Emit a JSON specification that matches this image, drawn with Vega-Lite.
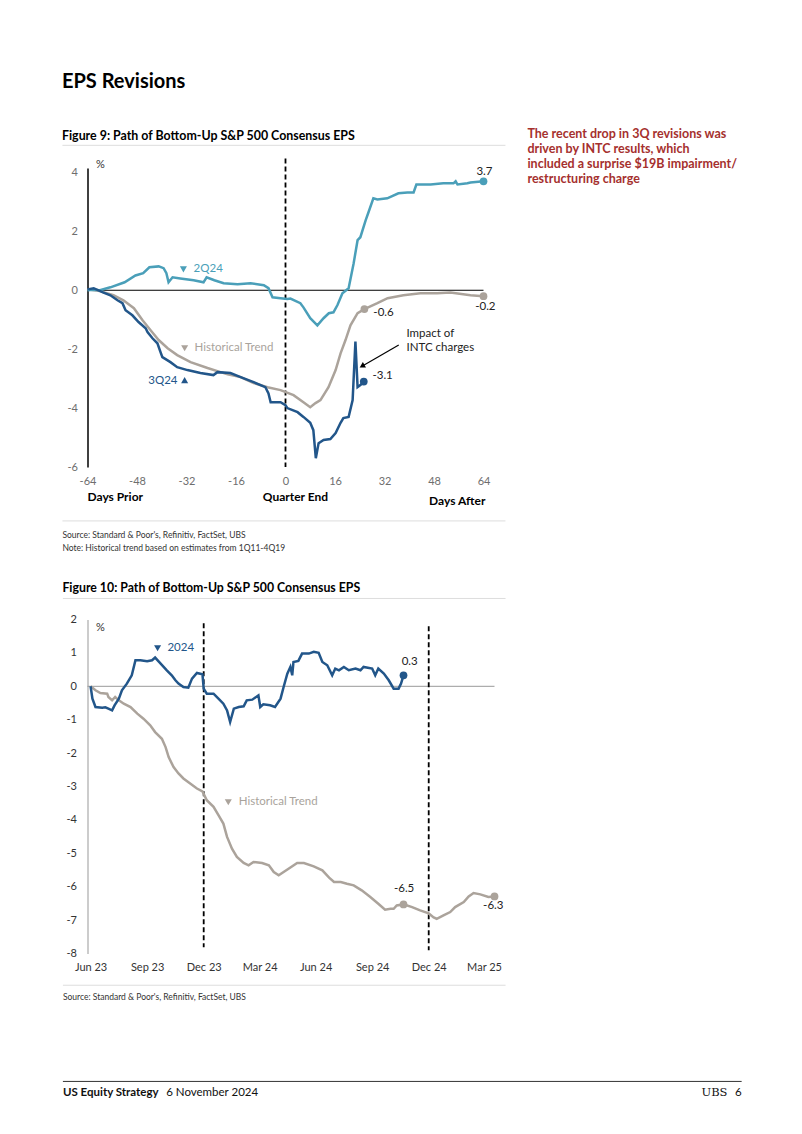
{
  "$schema": "https://vega.github.io/schema/vega-lite/v6.json",
  "background": "white",
  "padding": {"left": 61.5, "top": 71, "right": 5, "bottom": 5},
  "spacing": 28.5,
  "columns": 1,
  "align": "none",
  "resolve": {"scale": {"color": "independent"}},
  "config": {
    "font": "Lato",
    "view": {"stroke": null},
    "axis": {"grid": false, "ticks": false, "labelFont": "Lato", "labelOverlap": false},
    "title": {"font": "Lato", "subtitleFont": "Lato"}
  },
  "datasets": {
    "one": [{}],
    "c1": [
      {"s": "2Q24", "d": -64, "v": 0}, {"s": "2Q24", "d": -62, "v": 0.02}, {"s": "2Q24", "d": -60, "v": 0.0}, {"s": "2Q24", "d": -56.6, "v": 0.1}, {"s": "2Q24", "d": -52, "v": 0.27}, {"s": "2Q24", "d": -48.5, "v": 0.5}, {"s": "2Q24", "d": -46, "v": 0.58}, {"s": "2Q24", "d": -44, "v": 0.78}, {"s": "2Q24", "d": -41, "v": 0.81}, {"s": "2Q24", "d": -39.4, "v": 0.75}, {"s": "2Q24", "d": -38.5, "v": 0.58}, {"s": "2Q24", "d": -37.8, "v": 0.27}, {"s": "2Q24", "d": -36.5, "v": 0.44}, {"s": "2Q24", "d": -34, "v": 0.4}, {"s": "2Q24", "d": -29.7, "v": 0.34}, {"s": "2Q24", "d": -26.5, "v": 0.27}, {"s": "2Q24", "d": -25.5, "v": 0.44}, {"s": "2Q24", "d": -23, "v": 0.34}, {"s": "2Q24", "d": -20, "v": 0.24}, {"s": "2Q24", "d": -15.5, "v": 0.2}, {"s": "2Q24", "d": -11.3, "v": 0.24}, {"s": "2Q24", "d": -7, "v": 0.17}, {"s": "2Q24", "d": -5.5, "v": 0.07}, {"s": "2Q24", "d": -4.2, "v": -0.24}, {"s": "2Q24", "d": -1.6, "v": -0.27}, {"s": "2Q24", "d": 0.6, "v": -0.3}, {"s": "2Q24", "d": 1.6, "v": -0.28}, {"s": "2Q24", "d": 4.8, "v": -0.44}, {"s": "2Q24", "d": 5.8, "v": -0.58}, {"s": "2Q24", "d": 8, "v": -0.95}, {"s": "2Q24", "d": 10.3, "v": -1.19}, {"s": "2Q24", "d": 12.3, "v": -0.95}, {"s": "2Q24", "d": 14, "v": -0.78}, {"s": "2Q24", "d": 15.5, "v": -0.75}, {"s": "2Q24", "d": 16.8, "v": -0.5}, {"s": "2Q24", "d": 18.4, "v": -0.1}, {"s": "2Q24", "d": 20.4, "v": 0.07}, {"s": "2Q24", "d": 22, "v": 0.9}, {"s": "2Q24", "d": 23.3, "v": 1.7}, {"s": "2Q24", "d": 24.2, "v": 1.8}, {"s": "2Q24", "d": 25.9, "v": 2.37}, {"s": "2Q24", "d": 26.8, "v": 2.64}, {"s": "2Q24", "d": 28.4, "v": 3.12}, {"s": "2Q24", "d": 29.7, "v": 3.08}, {"s": "2Q24", "d": 32.9, "v": 3.12}, {"s": "2Q24", "d": 36.5, "v": 3.29}, {"s": "2Q24", "d": 39.4, "v": 3.32}, {"s": "2Q24", "d": 41.4, "v": 3.32}, {"s": "2Q24", "d": 42.3, "v": 3.59}, {"s": "2Q24", "d": 46.9, "v": 3.59}, {"s": "2Q24", "d": 51, "v": 3.63}, {"s": "2Q24", "d": 54.3, "v": 3.63}, {"s": "2Q24", "d": 55, "v": 3.7}, {"s": "2Q24", "d": 55.6, "v": 3.59}, {"s": "2Q24", "d": 58.8, "v": 3.63}, {"s": "2Q24", "d": 59.8, "v": 3.66}, {"s": "2Q24", "d": 64, "v": 3.7},
      {"s": "3Q24", "d": -64, "v": 0.03}, {"s": "3Q24", "d": -62, "v": 0.07}, {"s": "3Q24", "d": -59, "v": -0.07}, {"s": "3Q24", "d": -56.6, "v": -0.17}, {"s": "3Q24", "d": -54.3, "v": -0.34}, {"s": "3Q24", "d": -52.7, "v": -0.44}, {"s": "3Q24", "d": -51.7, "v": -0.68}, {"s": "3Q24", "d": -49.5, "v": -0.85}, {"s": "3Q24", "d": -47.5, "v": -1.08}, {"s": "3Q24", "d": -45.2, "v": -1.29}, {"s": "3Q24", "d": -44.6, "v": -1.42}, {"s": "3Q24", "d": -43, "v": -1.63}, {"s": "3Q24", "d": -41.4, "v": -1.8}, {"s": "3Q24", "d": -40.4, "v": -2.1}, {"s": "3Q24", "d": -39.8, "v": -2.27}, {"s": "3Q24", "d": -37.2, "v": -2.44}, {"s": "3Q24", "d": -35, "v": -2.61}, {"s": "3Q24", "d": -31.7, "v": -2.71}, {"s": "3Q24", "d": -27.5, "v": -2.81}, {"s": "3Q24", "d": -23.3, "v": -2.88}, {"s": "3Q24", "d": -22, "v": -2.78}, {"s": "3Q24", "d": -17.8, "v": -2.81}, {"s": "3Q24", "d": -14.5, "v": -2.95}, {"s": "3Q24", "d": -10.3, "v": -3.12}, {"s": "3Q24", "d": -6.5, "v": -3.29}, {"s": "3Q24", "d": -5.5, "v": -3.5}, {"s": "3Q24", "d": -4.8, "v": -3.8}, {"s": "3Q24", "d": -1.6, "v": -3.8}, {"s": "3Q24", "d": 0, "v": -3.9}, {"s": "3Q24", "d": 0.6, "v": -4.0}, {"s": "3Q24", "d": 3.9, "v": -4.14}, {"s": "3Q24", "d": 5.8, "v": -4.3}, {"s": "3Q24", "d": 8, "v": -4.5}, {"s": "3Q24", "d": 9, "v": -4.75}, {"s": "3Q24", "d": 9.8, "v": -5.7}, {"s": "3Q24", "d": 10.7, "v": -5.19}, {"s": "3Q24", "d": 12.3, "v": -5.08}, {"s": "3Q24", "d": 14.5, "v": -5.05}, {"s": "3Q24", "d": 16.2, "v": -4.85}, {"s": "3Q24", "d": 17.8, "v": -4.5}, {"s": "3Q24", "d": 18.7, "v": -4.34}, {"s": "3Q24", "d": 20.4, "v": -4.3}, {"s": "3Q24", "d": 21.7, "v": -3.73}, {"s": "3Q24", "d": 22.6, "v": -1.74}, {"s": "3Q24", "d": 23.3, "v": -3.29}, {"s": "3Q24", "d": 24.2, "v": -3.22}, {"s": "3Q24", "d": 25.3, "v": -3.1},
      {"s": "Historical Trend", "d": -64, "v": 0.03}, {"s": "Historical Trend", "d": -60, "v": -0.03}, {"s": "Historical Trend", "d": -55.6, "v": -0.17}, {"s": "Historical Trend", "d": -52.4, "v": -0.34}, {"s": "Historical Trend", "d": -49, "v": -0.61}, {"s": "Historical Trend", "d": -46.2, "v": -1.02}, {"s": "Historical Trend", "d": -43.6, "v": -1.36}, {"s": "Historical Trend", "d": -41, "v": -1.69}, {"s": "Historical Trend", "d": -38.1, "v": -1.97}, {"s": "Historical Trend", "d": -35, "v": -2.2}, {"s": "Historical Trend", "d": -30.7, "v": -2.44}, {"s": "Historical Trend", "d": -25.2, "v": -2.64}, {"s": "Historical Trend", "d": -21, "v": -2.78}, {"s": "Historical Trend", "d": -18.7, "v": -2.85}, {"s": "Historical Trend", "d": -14.5, "v": -2.95}, {"s": "Historical Trend", "d": -10.3, "v": -3.15}, {"s": "Historical Trend", "d": -5.8, "v": -3.29}, {"s": "Historical Trend", "d": -1.6, "v": -3.39}, {"s": "Historical Trend", "d": 2.6, "v": -3.56}, {"s": "Historical Trend", "d": 5.8, "v": -3.8}, {"s": "Historical Trend", "d": 8, "v": -3.97}, {"s": "Historical Trend", "d": 9.7, "v": -3.83}, {"s": "Historical Trend", "d": 11.3, "v": -3.73}, {"s": "Historical Trend", "d": 13.9, "v": -3.29}, {"s": "Historical Trend", "d": 16.2, "v": -2.71}, {"s": "Historical Trend", "d": 17.8, "v": -2.14}, {"s": "Historical Trend", "d": 19.4, "v": -1.69}, {"s": "Historical Trend", "d": 21, "v": -1.19}, {"s": "Historical Trend", "d": 23.3, "v": -0.78}, {"s": "Historical Trend", "d": 25.5, "v": -0.64}, {"s": "Historical Trend", "d": 29.7, "v": -0.44}, {"s": "Historical Trend", "d": 33, "v": -0.27}, {"s": "Historical Trend", "d": 38.1, "v": -0.17}, {"s": "Historical Trend", "d": 43.6, "v": -0.1}, {"s": "Historical Trend", "d": 49, "v": -0.1}, {"s": "Historical Trend", "d": 53.3, "v": -0.08}, {"s": "Historical Trend", "d": 59.8, "v": -0.17}, {"s": "Historical Trend", "d": 64, "v": -0.2}
    ],
    "c1end": [
      {"s": "2Q24", "d": 64, "v": 3.7},
      {"s": "3Q24", "d": 25.3, "v": -3.1},
      {"s": "Historical Trend", "d": 25.5, "v": -0.64},
      {"s": "Historical Trend", "d": 64, "v": -0.2}
    ],
    "c2": [
      {"s": "2024", "t": "2023-06-30", "v": 0}, {"s": "2024", "t": "2023-07-03", "v": -0.37}, {"s": "2024", "t": "2023-07-08", "v": -0.62}, {"s": "2024", "t": "2023-07-19", "v": -0.64}, {"s": "2024", "t": "2023-07-24", "v": -0.63}, {"s": "2024", "t": "2023-07-29", "v": -0.67}, {"s": "2024", "t": "2023-08-04", "v": -0.72}, {"s": "2024", "t": "2023-08-08", "v": -0.57}, {"s": "2024", "t": "2023-08-15", "v": -0.37}, {"s": "2024", "t": "2023-08-20", "v": -0.12}, {"s": "2024", "t": "2023-08-28", "v": 0.08}, {"s": "2024", "t": "2023-09-05", "v": 0.33}, {"s": "2024", "t": "2023-09-11", "v": 0.78}, {"s": "2024", "t": "2023-09-19", "v": 0.78}, {"s": "2024", "t": "2023-09-30", "v": 0.75}, {"s": "2024", "t": "2023-10-08", "v": 0.78}, {"s": "2024", "t": "2023-10-13", "v": 0.86}, {"s": "2024", "t": "2023-10-22", "v": 0.68}, {"s": "2024", "t": "2023-11-01", "v": 0.48}, {"s": "2024", "t": "2023-11-09", "v": 0.33}, {"s": "2024", "t": "2023-11-15", "v": 0.18}, {"s": "2024", "t": "2023-11-20", "v": 0.08}, {"s": "2024", "t": "2023-11-28", "v": -0.02}, {"s": "2024", "t": "2023-12-06", "v": -0.04}, {"s": "2024", "t": "2023-12-12", "v": 0.23}, {"s": "2024", "t": "2023-12-20", "v": 0.4}, {"s": "2024", "t": "2023-12-29", "v": 0.36}, {"s": "2024", "t": "2023-12-31", "v": -0.07}, {"s": "2024", "t": "2024-01-05", "v": -0.22}, {"s": "2024", "t": "2024-01-16", "v": -0.22}, {"s": "2024", "t": "2024-01-24", "v": -0.37}, {"s": "2024", "t": "2024-02-01", "v": -0.52}, {"s": "2024", "t": "2024-02-07", "v": -0.72}, {"s": "2024", "t": "2024-02-12", "v": -1.07}, {"s": "2024", "t": "2024-02-18", "v": -0.67}, {"s": "2024", "t": "2024-02-26", "v": -0.62}, {"s": "2024", "t": "2024-03-05", "v": -0.6}, {"s": "2024", "t": "2024-03-10", "v": -0.42}, {"s": "2024", "t": "2024-03-19", "v": -0.4}, {"s": "2024", "t": "2024-03-29", "v": -0.27}, {"s": "2024", "t": "2024-04-01", "v": -0.62}, {"s": "2024", "t": "2024-04-06", "v": -0.54}, {"s": "2024", "t": "2024-04-17", "v": -0.57}, {"s": "2024", "t": "2024-04-25", "v": -0.62}, {"s": "2024", "t": "2024-05-04", "v": -0.37}, {"s": "2024", "t": "2024-05-09", "v": -0.02}, {"s": "2024", "t": "2024-05-15", "v": 0.38}, {"s": "2024", "t": "2024-05-20", "v": 0.58}, {"s": "2024", "t": "2024-05-23", "v": 0.33}, {"s": "2024", "t": "2024-05-25", "v": 0.73}, {"s": "2024", "t": "2024-06-02", "v": 0.76}, {"s": "2024", "t": "2024-06-08", "v": 0.98}, {"s": "2024", "t": "2024-06-19", "v": 0.98}, {"s": "2024", "t": "2024-06-27", "v": 1.03}, {"s": "2024", "t": "2024-07-05", "v": 1.0}, {"s": "2024", "t": "2024-07-11", "v": 0.73}, {"s": "2024", "t": "2024-07-19", "v": 0.63}, {"s": "2024", "t": "2024-07-27", "v": 0.33}, {"s": "2024", "t": "2024-08-01", "v": 0.53}, {"s": "2024", "t": "2024-08-07", "v": 0.48}, {"s": "2024", "t": "2024-08-15", "v": 0.58}, {"s": "2024", "t": "2024-08-23", "v": 0.48}, {"s": "2024", "t": "2024-09-03", "v": 0.53}, {"s": "2024", "t": "2024-09-11", "v": 0.48}, {"s": "2024", "t": "2024-09-16", "v": 0.58}, {"s": "2024", "t": "2024-09-30", "v": 0.53}, {"s": "2024", "t": "2024-10-05", "v": 0.33}, {"s": "2024", "t": "2024-10-10", "v": 0.53}, {"s": "2024", "t": "2024-10-19", "v": 0.38}, {"s": "2024", "t": "2024-10-27", "v": 0.18}, {"s": "2024", "t": "2024-11-04", "v": -0.07}, {"s": "2024", "t": "2024-11-12", "v": -0.07}, {"s": "2024", "t": "2024-11-16", "v": 0.08}, {"s": "2024", "t": "2024-11-20", "v": 0.33},
      {"s": "Historical Trend", "t": "2023-06-30", "v": 0}, {"s": "Historical Trend", "t": "2023-07-08", "v": -0.12}, {"s": "Historical Trend", "t": "2023-07-16", "v": -0.2}, {"s": "Historical Trend", "t": "2023-07-27", "v": -0.22}, {"s": "Historical Trend", "t": "2023-07-29", "v": -0.32}, {"s": "Historical Trend", "t": "2023-08-04", "v": -0.42}, {"s": "Historical Trend", "t": "2023-08-09", "v": -0.32}, {"s": "Historical Trend", "t": "2023-08-15", "v": -0.42}, {"s": "Historical Trend", "t": "2023-08-23", "v": -0.52}, {"s": "Historical Trend", "t": "2023-09-03", "v": -0.62}, {"s": "Historical Trend", "t": "2023-09-14", "v": -0.82}, {"s": "Historical Trend", "t": "2023-09-24", "v": -0.97}, {"s": "Historical Trend", "t": "2023-10-05", "v": -1.17}, {"s": "Historical Trend", "t": "2023-10-13", "v": -1.37}, {"s": "Historical Trend", "t": "2023-10-24", "v": -1.57}, {"s": "Historical Trend", "t": "2023-10-30", "v": -1.82}, {"s": "Historical Trend", "t": "2023-11-04", "v": -2.12}, {"s": "Historical Trend", "t": "2023-11-12", "v": -2.42}, {"s": "Historical Trend", "t": "2023-11-20", "v": -2.61}, {"s": "Historical Trend", "t": "2023-11-28", "v": -2.76}, {"s": "Historical Trend", "t": "2023-12-09", "v": -2.91}, {"s": "Historical Trend", "t": "2023-12-20", "v": -3.06}, {"s": "Historical Trend", "t": "2023-12-29", "v": -3.15}, {"s": "Historical Trend", "t": "2024-01-05", "v": -3.41}, {"s": "Historical Trend", "t": "2024-01-16", "v": -3.61}, {"s": "Historical Trend", "t": "2024-01-24", "v": -3.86}, {"s": "Historical Trend", "t": "2024-02-01", "v": -4.11}, {"s": "Historical Trend", "t": "2024-02-07", "v": -4.51}, {"s": "Historical Trend", "t": "2024-02-15", "v": -4.86}, {"s": "Historical Trend", "t": "2024-02-23", "v": -5.11}, {"s": "Historical Trend", "t": "2024-03-05", "v": -5.29}, {"s": "Historical Trend", "t": "2024-03-13", "v": -5.36}, {"s": "Historical Trend", "t": "2024-03-21", "v": -5.26}, {"s": "Historical Trend", "t": "2024-04-04", "v": -5.29}, {"s": "Historical Trend", "t": "2024-04-15", "v": -5.36}, {"s": "Historical Trend", "t": "2024-04-23", "v": -5.56}, {"s": "Historical Trend", "t": "2024-05-01", "v": -5.66}, {"s": "Historical Trend", "t": "2024-05-09", "v": -5.56}, {"s": "Historical Trend", "t": "2024-05-17", "v": -5.46}, {"s": "Historical Trend", "t": "2024-05-31", "v": -5.29}, {"s": "Historical Trend", "t": "2024-06-11", "v": -5.29}, {"s": "Historical Trend", "t": "2024-06-27", "v": -5.39}, {"s": "Historical Trend", "t": "2024-07-11", "v": -5.51}, {"s": "Historical Trend", "t": "2024-07-22", "v": -5.73}, {"s": "Historical Trend", "t": "2024-07-30", "v": -5.86}, {"s": "Historical Trend", "t": "2024-08-10", "v": -5.86}, {"s": "Historical Trend", "t": "2024-08-20", "v": -5.91}, {"s": "Historical Trend", "t": "2024-08-31", "v": -5.96}, {"s": "Historical Trend", "t": "2024-09-13", "v": -6.11}, {"s": "Historical Trend", "t": "2024-09-27", "v": -6.31}, {"s": "Historical Trend", "t": "2024-10-10", "v": -6.51}, {"s": "Historical Trend", "t": "2024-10-21", "v": -6.69}, {"s": "Historical Trend", "t": "2024-10-30", "v": -6.66}, {"s": "Historical Trend", "t": "2024-11-04", "v": -6.66}, {"s": "Historical Trend", "t": "2024-11-09", "v": -6.56}, {"s": "Historical Trend", "t": "2024-11-20", "v": -6.53}, {"s": "Historical Trend", "t": "2024-12-04", "v": -6.61}, {"s": "Historical Trend", "t": "2024-12-17", "v": -6.71}, {"s": "Historical Trend", "t": "2024-12-31", "v": -6.8}, {"s": "Historical Trend", "t": "2025-01-08", "v": -6.92}, {"s": "Historical Trend", "t": "2025-01-13", "v": -6.96}, {"s": "Historical Trend", "t": "2025-01-24", "v": -6.86}, {"s": "Historical Trend", "t": "2025-02-04", "v": -6.76}, {"s": "Historical Trend", "t": "2025-02-12", "v": -6.61}, {"s": "Historical Trend", "t": "2025-02-26", "v": -6.46}, {"s": "Historical Trend", "t": "2025-03-06", "v": -6.29}, {"s": "Historical Trend", "t": "2025-03-14", "v": -6.19}, {"s": "Historical Trend", "t": "2025-03-25", "v": -6.23}, {"s": "Historical Trend", "t": "2025-04-07", "v": -6.31}, {"s": "Historical Trend", "t": "2025-04-17", "v": -6.29}
    ],
    "c2end": [
      {"s": "2024", "t": "2024-11-20", "v": 0.33},
      {"s": "Historical Trend", "t": "2024-11-20", "v": -6.53},
      {"s": "Historical Trend", "t": "2025-04-17", "v": -6.29}
    ]
  },
  "concat": [
    {
      "width": 396,
      "height": 299,
      "title": {
        "text": "EPS Revisions",
        "subtitle": "Figure 9: Path of Bottom-Up S&P 500 Consensus EPS",
        "anchor": "start",
        "fontSize": 20,
        "fontWeight": "bold",
        "color": "#000000",
        "subtitleFontSize": 12.4,
        "subtitleFontWeight": "bold",
        "subtitleColor": "#000000",
        "subtitlePadding": 38,
        "offset": -14
      },
      "layer": [
        {"data": {"name": "one"}, "mark": {"type": "rule", "color": "#dddddd", "strokeWidth": 1}, "encoding": {"x": {"datum": -72.1}, "x2": {"datum": 71.1}, "y": {"datum": 4.92}}},
        {"data": {"name": "one"}, "mark": {"type": "rule", "color": "#dddddd", "strokeWidth": 1}, "encoding": {"x": {"datum": -72.1}, "x2": {"datum": 71.1}, "y": {"datum": -7.83}}},
        {"data": {"name": "one"}, "mark": {"type": "rule", "color": "#000000", "strokeWidth": 1}, "encoding": {"y": {"datum": 0}}},
        {"data": {"name": "one"}, "mark": {"type": "rule", "color": "#000000", "strokeWidth": 1.8, "strokeDash": [5, 3]}, "encoding": {"x": {"datum": 0}, "y": {"datum": 4.47}, "y2": {"datum": -6}}},
        {
          "data": {"name": "c1"},
          "transform": [{"filter": "datum.s == 'Historical Trend'"}],
          "mark": {"type": "line", "color": "#ABA39B", "strokeWidth": 2.5},
          "encoding": {
            "x": {"field": "d", "type": "quantitative", "scale": {"domain": [-64, 64], "nice": false, "zero": false},
                  "axis": {"values": [-64, -48, -32, -16, 0, 16, 32, 48, 64], "labelExpr": "'' + datum.value", "labelColor": "#6e6e6e", "labelFontSize": 11, "domain": false, "ticks": false, "labelPadding": 8, "labelFlush": false, "labelOverlap": false, "title": null}},
            "y": {"field": "v", "type": "quantitative", "scale": {"domain": [-6, 4.15], "nice": false, "zero": false},
                  "axis": {"values": [-6, -4, -2, 0, 2, 4], "labelExpr": "'' + datum.value", "labelColor": "#6e6e6e", "labelFontSize": 11, "domain": true, "domainColor": "#000000", "domainWidth": 1.5, "ticks": false, "labelPadding": 10, "labelFlush": false, "labelOverlap": false, "title": null}}
          }
        },
        {"data": {"name": "c1"}, "transform": [{"filter": "datum.s == '2Q24'"}], "mark": {"type": "line", "color": "#4A9FB9", "strokeWidth": 2.5}, "encoding": {"x": {"field": "d", "type": "quantitative"}, "y": {"field": "v", "type": "quantitative"}}},
        {"data": {"name": "c1"}, "transform": [{"filter": "datum.s == '3Q24'"}], "mark": {"type": "line", "color": "#22568A", "strokeWidth": 2.5}, "encoding": {"x": {"field": "d", "type": "quantitative"}, "y": {"field": "v", "type": "quantitative"}}},
        {"data": {"name": "c1end"}, "mark": {"type": "point", "filled": true, "size": 60, "opacity": 1}, "encoding": {"x": {"field": "d", "type": "quantitative"}, "y": {"field": "v", "type": "quantitative"}, "color": {"field": "s", "type": "nominal", "scale": {"domain": ["2Q24", "3Q24", "Historical Trend"], "range": ["#4A9FB9", "#22568A", "#ABA39B"]}, "legend": null}}},
        {"data": {"name": "one"}, "mark": {"type": "rule", "color": "#000000", "strokeWidth": 1.2}, "encoding": {"x": {"datum": 36.6}, "y": {"datum": -1.86}, "x2": {"datum": 25.0}, "y2": {"datum": -2.56}}},
        {"data": {"name": "one"}, "mark": {"type": "point", "shape": "triangle", "filled": true, "size": 40, "color": "#000000", "opacity": 1, "angle": 240}, "encoding": {"x": {"datum": 25.0}, "y": {"datum": -2.56}}},
        {"data": {"name": "one"}, "mark": {"type": "point", "shape": "triangle-down", "filled": true, "size": 50, "color": "#4A9FB9", "opacity": 1}, "encoding": {"x": {"datum": -33}, "y": {"datum": 0.71}}},
        {"data": {"name": "one"}, "mark": {"type": "point", "shape": "triangle-down", "filled": true, "size": 50, "color": "#ABA39B", "opacity": 1}, "encoding": {"x": {"datum": -32.6}, "y": {"datum": -1.97}}},
        {"data": {"name": "one"}, "mark": {"type": "point", "shape": "triangle-up", "filled": true, "size": 50, "color": "#22568A", "opacity": 1}, "encoding": {"x": {"datum": -32.6}, "y": {"datum": -3.05}}},
        {"data": {"name": "one"}, "mark": {"type": "text", "text": "2Q24", "align": "left", "baseline": "middle", "fontSize": 11.5, "color": "#4A9FB9"}, "encoding": {"x": {"datum": -29.7}, "y": {"datum": 0.71}}},
        {"data": {"name": "one"}, "mark": {"type": "text", "text": "Historical Trend", "align": "left", "baseline": "middle", "fontSize": 11.5, "color": "#A9A39C"}, "encoding": {"x": {"datum": -29.4}, "y": {"datum": -1.97}}},
        {"data": {"name": "one"}, "mark": {"type": "text", "text": "3Q24", "align": "right", "baseline": "middle", "fontSize": 11.5, "color": "#22568A"}, "encoding": {"x": {"datum": -34.9}, "y": {"datum": -3.08}}},
        {"data": {"name": "one"}, "mark": {"type": "text", "text": "%", "align": "center", "baseline": "middle", "fontSize": 11, "color": "#333333"}, "encoding": {"x": {"datum": -59.8}, "y": {"datum": 4.24}}},
        {"data": {"name": "one"}, "mark": {"type": "text", "text": "3.7", "align": "center", "baseline": "middle", "fontSize": 11.5, "color": "#222222"}, "encoding": {"x": {"datum": 64.3}, "y": {"datum": 4.03}}},
        {"data": {"name": "one"}, "mark": {"type": "text", "text": "-0.2", "align": "center", "baseline": "middle", "fontSize": 11.5, "color": "#222222"}, "encoding": {"x": {"datum": 64.6}, "y": {"datum": -0.58}}},
        {"data": {"name": "one"}, "mark": {"type": "text", "text": "-0.6", "align": "left", "baseline": "middle", "fontSize": 11.5, "color": "#222222"}, "encoding": {"x": {"datum": 28.4}, "y": {"datum": -0.78}}},
        {"data": {"name": "one"}, "mark": {"type": "text", "text": "-3.1", "align": "left", "baseline": "middle", "fontSize": 11.5, "color": "#222222"}, "encoding": {"x": {"datum": 28.1}, "y": {"datum": -2.92}}},
        {"data": {"name": "one"}, "mark": {"type": "text", "text": ["Impact of", "INTC charges"], "align": "left", "baseline": "top", "lineHeight": 14, "fontSize": 11.5, "color": "#222222"}, "encoding": {"x": {"datum": 39.1}, "y": {"datum": -1.29}}},
        {"data": {"name": "one"}, "mark": {"type": "text", "text": "Days Prior", "align": "left", "baseline": "middle", "fontSize": 12, "fontWeight": "bold", "color": "#000000"}, "encoding": {"x": {"datum": -64}, "y": {"datum": -7.02}}},
        {"data": {"name": "one"}, "mark": {"type": "text", "text": "Quarter End", "align": "center", "baseline": "middle", "fontSize": 12, "fontWeight": "bold", "color": "#000000"}, "encoding": {"x": {"datum": 3.2}, "y": {"datum": -7.02}}},
        {"data": {"name": "one"}, "mark": {"type": "text", "text": "Days After", "align": "right", "baseline": "middle", "fontSize": 12, "fontWeight": "bold", "color": "#000000"}, "encoding": {"x": {"datum": 64.6}, "y": {"datum": -7.15}}},
        {"data": {"name": "one"}, "mark": {"type": "text", "text": ["Source: Standard & Poor's, Refinitiv, FactSet, UBS", "Note: Historical trend based on estimates from 1Q11-4Q19"], "align": "left", "baseline": "top", "lineHeight": 13, "fontSize": 8.5, "color": "#333333"}, "encoding": {"x": {"datum": -72.1}, "y": {"datum": -8.17}}},
        {"data": {"name": "one"}, "mark": {"type": "text", "text": ["The recent drop in 3Q revisions was", "driven by INTC results, which", "included a surprise $19B impairment/", "restructuring charge"], "align": "left", "baseline": "top", "lineHeight": 15, "fontSize": 12.5, "fontWeight": "bold", "color": "#A5302E"}, "encoding": {"x": {"datum": 78.2}, "y": {"datum": 5.51}}}
      ]
    },
    {
      "width": 407,
      "height": 334,
      "title": {"text": "Figure 10: Path of Bottom-Up S&P 500 Consensus EPS", "anchor": "start", "fontSize": 12.3, "fontWeight": "bold", "color": "#000000", "offset": 4},
      "layer": [
        {"data": {"name": "one"}, "mark": {"type": "rule", "color": "#dddddd", "strokeWidth": 1}, "encoding": {
          "x": {"datum": {"year": 2023, "month": 5, "date": 16, "utc": true}, "type": "temporal"},
          "x2": {"datum": {"year": 2025, "month": 5, "date": 5, "utc": true}},
          "y": {"datum": 2.63, "type": "quantitative", "scale": {"domain": [-8, 2], "nice": false, "zero": false},
                "axis": {"values": [-8, -7, -6, -5, -4, -3, -2, -1, 0, 1, 2], "tickCount": 11, "labelExpr": "'' + datum.value", "labelColor": "#333333", "labelFontSize": 11, "domain": true, "domainColor": "#cccccc", "domainWidth": 2, "ticks": false, "labelPadding": 11, "labelFlush": false, "labelOverlap": false, "title": null}}}},
        {"data": {"name": "one"}, "mark": {"type": "rule", "color": "#dddddd", "strokeWidth": 1}, "encoding": {"x": {"datum": {"year": 2023, "month": 5, "date": 16, "utc": true}, "type": "temporal"}, "x2": {"datum": {"year": 2025, "month": 5, "date": 5, "utc": true}}, "y": {"datum": -8.95}}},
        {"data": {"name": "one"}, "mark": {"type": "rule", "color": "#333333", "strokeWidth": 1}, "encoding": {"x": {"datum": {"year": 2023, "month": 5, "date": 16, "utc": true}, "type": "temporal"}, "x2": {"datum": {"year": 2026, "month": 5, "date": 24, "utc": true}}, "y": {"datum": -11.83}}},
        {"data": {"name": "one"}, "mark": {"type": "rule", "color": "#999999", "strokeWidth": 1}, "encoding": {"y": {"datum": 0}}},
        {"data": {"name": "one"}, "mark": {"type": "rule", "color": "#000000", "strokeWidth": 1.8, "strokeDash": [5, 3]}, "encoding": {"x": {"datum": {"year": 2023, "month": 12, "date": 31, "utc": true}, "type": "temporal"}, "y": {"datum": 1.89}, "y2": {"datum": -7.81}}},
        {"data": {"name": "one"}, "mark": {"type": "rule", "color": "#000000", "strokeWidth": 1.8, "strokeDash": [5, 3]}, "encoding": {"x": {"datum": {"year": 2024, "month": 12, "date": 31, "utc": true}, "type": "temporal"}, "y": {"datum": 1.8}, "y2": {"datum": -7.9}}},
        {
          "data": {"name": "c2"},
          "transform": [{"filter": "datum.s == 'Historical Trend'"}],
          "mark": {"type": "line", "color": "#ABA39B", "strokeWidth": 2.5},
          "encoding": {
            "x": {"field": "t", "type": "temporal",
                  "scale": {"type": "utc", "domain": [{"year": 2023, "month": 6, "date": 25, "utc": true}, {"year": 2025, "month": 4, "date": 17, "utc": true}], "nice": false},
                  "axis": {"values": [
                    {"year": 2023, "month": 6, "date": 30, "utc": true}, {"year": 2023, "month": 9, "date": 30, "utc": true}, {"year": 2023, "month": 12, "date": 31, "utc": true}, {"year": 2024, "month": 3, "date": 31, "utc": true}, {"year": 2024, "month": 6, "date": 30, "utc": true}, {"year": 2024, "month": 9, "date": 30, "utc": true}, {"year": 2024, "month": 12, "date": 31, "utc": true}, {"year": 2025, "month": 3, "date": 31, "utc": true}],
                    "format": "%b %y", "labelColor": "#333333", "labelFontSize": 11, "domain": false, "ticks": false, "labelPadding": 8, "labelFlush": false, "labelOverlap": false, "title": null}},
            "y": {"field": "v", "type": "quantitative", "scale": {"domain": [-8, 2], "nice": false, "zero": false},
                  "axis": {"values": [-8, -7, -6, -5, -4, -3, -2, -1, 0, 1, 2], "tickCount": 11, "labelExpr": "'' + datum.value", "labelColor": "#333333", "labelFontSize": 11, "domain": true, "domainColor": "#cccccc", "domainWidth": 2, "ticks": false, "labelPadding": 11, "labelFlush": false, "labelOverlap": false, "title": null}}
          }
        },
        {"data": {"name": "c2"}, "transform": [{"filter": "datum.s == '2024'"}], "mark": {"type": "line", "color": "#22568A", "strokeWidth": 2.5}, "encoding": {"x": {"field": "t", "type": "temporal"}, "y": {"field": "v", "type": "quantitative"}}},
        {"data": {"name": "c2end"}, "mark": {"type": "point", "filled": true, "size": 60, "opacity": 1}, "encoding": {"x": {"field": "t", "type": "temporal"}, "y": {"field": "v", "type": "quantitative"}, "color": {"field": "s", "type": "nominal", "scale": {"domain": ["2024", "Historical Trend"], "range": ["#22568A", "#ABA39B"]}, "legend": null}}},
        {"data": {"name": "one"}, "mark": {"type": "point", "shape": "triangle-down", "filled": true, "size": 50, "color": "#22568A", "opacity": 1}, "encoding": {"x": {"datum": {"year": 2023, "month": 10, "date": 17, "utc": true}, "type": "temporal"}, "y": {"datum": 1.14}}},
        {"data": {"name": "one"}, "mark": {"type": "point", "shape": "triangle-down", "filled": true, "size": 50, "color": "#ABA39B", "opacity": 1}, "encoding": {"x": {"datum": {"year": 2024, "month": 2, "date": 9, "utc": true}, "type": "temporal"}, "y": {"datum": -3.47}}},
        {"data": {"name": "one"}, "mark": {"type": "text", "text": "2024", "align": "left", "baseline": "middle", "fontSize": 11.5, "color": "#22568A"}, "encoding": {"x": {"datum": {"year": 2023, "month": 11, "date": 2, "utc": true}, "type": "temporal"}, "y": {"datum": 1.14}}},
        {"data": {"name": "one"}, "mark": {"type": "text", "text": "Historical Trend", "align": "left", "baseline": "middle", "fontSize": 11.5, "color": "#A9A39C"}, "encoding": {"x": {"datum": {"year": 2024, "month": 2, "date": 26, "utc": true}, "type": "temporal"}, "y": {"datum": -3.47}}},
        {"data": {"name": "one"}, "mark": {"type": "text", "text": "%", "align": "center", "baseline": "middle", "fontSize": 11, "color": "#333333"}, "encoding": {"x": {"datum": {"year": 2023, "month": 7, "date": 16, "utc": true}, "type": "temporal"}, "y": {"datum": 1.74}}},
        {"data": {"name": "one"}, "mark": {"type": "text", "text": "0.3", "align": "center", "baseline": "middle", "fontSize": 11.5, "color": "#222222"}, "encoding": {"x": {"datum": {"year": 2024, "month": 11, "date": 30, "utc": true}, "type": "temporal"}, "y": {"datum": 0.72}}},
        {"data": {"name": "one"}, "mark": {"type": "text", "text": "-6.5", "align": "center", "baseline": "middle", "fontSize": 11.5, "color": "#222222"}, "encoding": {"x": {"datum": {"year": 2024, "month": 11, "date": 21, "utc": true}, "type": "temporal"}, "y": {"datum": -6.08}}},
        {"data": {"name": "one"}, "mark": {"type": "text", "text": "-6.3", "align": "center", "baseline": "middle", "fontSize": 11.5, "color": "#222222"}, "encoding": {"x": {"datum": {"year": 2025, "month": 4, "date": 15, "utc": true}, "type": "temporal"}, "y": {"datum": -6.59}}},
        {"data": {"name": "one"}, "mark": {"type": "text", "text": "Source: Standard & Poor's, Refinitiv, FactSet, UBS", "align": "left", "baseline": "middle", "fontSize": 8.5, "color": "#333333"}, "encoding": {"x": {"datum": {"year": 2023, "month": 5, "date": 16, "utc": true}, "type": "temporal"}, "y": {"datum": -9.31}}},
        {"data": {"name": "one"}, "mark": {"type": "text", "text": "US Equity Strategy", "align": "left", "baseline": "middle", "fontSize": 11.5, "fontWeight": "bold", "color": "#111111"}, "encoding": {"x": {"datum": {"year": 2023, "month": 5, "date": 16, "utc": true}, "type": "temporal"}, "y": {"datum": -12.19}}},
        {"data": {"name": "one"}, "mark": {"type": "text", "text": "6 November 2024", "align": "left", "baseline": "middle", "fontSize": 11.5, "color": "#111111"}, "encoding": {"x": {"datum": {"year": 2023, "month": 10, "date": 31, "utc": true}, "type": "temporal"}, "y": {"datum": -12.19}}},
        {"data": {"name": "one"}, "mark": {"type": "text", "text": "UBS", "align": "right", "baseline": "middle", "fontSize": 11.5, "font": "DejaVu Serif", "color": "#111111"}, "encoding": {"x": {"datum": {"year": 2026, "month": 5, "date": 1, "utc": true}, "type": "temporal"}, "y": {"datum": -12.19}}},
        {"data": {"name": "one"}, "mark": {"type": "text", "text": "6", "align": "right", "baseline": "middle", "fontSize": 11.5, "color": "#111111"}, "encoding": {"x": {"datum": {"year": 2026, "month": 5, "date": 24, "utc": true}, "type": "temporal"}, "y": {"datum": -12.19}}}
      ]
    }
  ]
}
